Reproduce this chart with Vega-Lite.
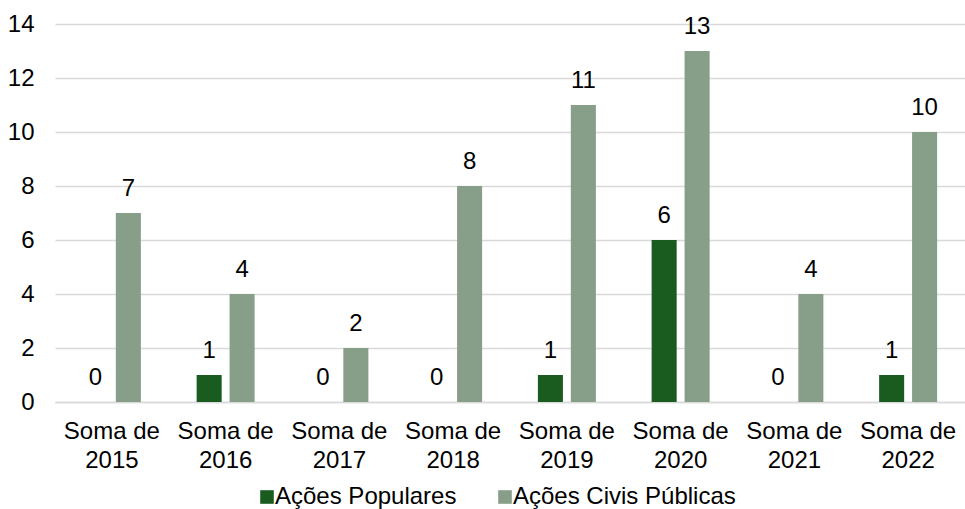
{
  "$schema": "https://vega.github.io/schema/vega-lite/v6.json",
  "width": 910,
  "height": 378,
  "autosize": {"type": "none"},
  "padding": {"left": 55, "top": 24, "right": 0, "bottom": 107},
  "background": "white",
  "config": {
    "view": {"stroke": null},
    "font": "Liberation Sans",
    "axis": {"labelFont": "Liberation Sans", "labelFontSize": 24, "labelColor": "#000000", "titleFontSize": 24},
    "legend": {"labelFont": "Liberation Sans", "labelFontSize": 24, "labelColor": "#000000", "labelLimit": 0}
  },
  "data": {
    "values": [
      {"ano": "2015", "serie": "Ações Populares", "valor": 0},
      {"ano": "2015", "serie": "Ações Civis Públicas", "valor": 7},
      {"ano": "2016", "serie": "Ações Populares", "valor": 1},
      {"ano": "2016", "serie": "Ações Civis Públicas", "valor": 4},
      {"ano": "2017", "serie": "Ações Populares", "valor": 0},
      {"ano": "2017", "serie": "Ações Civis Públicas", "valor": 2},
      {"ano": "2018", "serie": "Ações Populares", "valor": 0},
      {"ano": "2018", "serie": "Ações Civis Públicas", "valor": 8},
      {"ano": "2019", "serie": "Ações Populares", "valor": 1},
      {"ano": "2019", "serie": "Ações Civis Públicas", "valor": 11},
      {"ano": "2020", "serie": "Ações Populares", "valor": 6},
      {"ano": "2020", "serie": "Ações Civis Públicas", "valor": 13},
      {"ano": "2021", "serie": "Ações Populares", "valor": 0},
      {"ano": "2021", "serie": "Ações Civis Públicas", "valor": 4},
      {"ano": "2022", "serie": "Ações Populares", "valor": 1},
      {"ano": "2022", "serie": "Ações Civis Públicas", "valor": 10}
    ]
  },
  "encoding": {
    "x": {
      "field": "ano", "type": "nominal", "sort": null,
      "scale": {"paddingInner": 0.49, "paddingOuter": 0.245},
      "axis": {
        "title": null, "labelAngle": 0, "ticks": false,
        "domainColor": "#D9D9D9", "domainWidth": 1.5,
        "labelExpr": "['Soma de', datum.label]",
        "labelLineHeight": 29, "labelPadding": 17, "labelBaseline": "top"
      }
    },
    "xOffset": {
      "field": "serie", "type": "nominal",
      "sort": ["Ações Populares", "Ações Civis Públicas"],
      "scale": {"paddingInner": 0.24, "paddingOuter": 0}
    },
    "y": {
      "field": "valor", "type": "quantitative",
      "scale": {"domain": [0, 14]},
      "axis": {
        "title": null, "values": [0, 2, 4, 6, 8, 10, 12, 14],
        "domain": false, "ticks": false, "labelPadding": 21,
        "gridColor": "#D9D9D9", "gridWidth": 1.5
      }
    }
  },
  "layer": [
    {
      "mark": {"type": "bar"},
      "encoding": {
        "color": {
          "field": "serie", "type": "nominal",
          "sort": ["Ações Populares", "Ações Civis Públicas"],
          "scale": {"domain": ["Ações Populares", "Ações Civis Públicas"], "range": ["#1A5C20", "#879F88"]},
          "legend": {
            "title": null, "orient": "none", "direction": "horizontal",
            "legendX": 200, "legendY": 461,
            "symbolType": "square", "symbolSize": 185, "symbolStrokeWidth": 0,
            "labelOffset": -4, "columnPadding": 36
          }
        }
      }
    },
    {
      "mark": {"type": "text", "baseline": "alphabetic", "dy": -17, "fontSize": 24, "color": "#000000"},
      "encoding": {"text": {"field": "valor", "type": "quantitative"}}
    }
  ]
}
